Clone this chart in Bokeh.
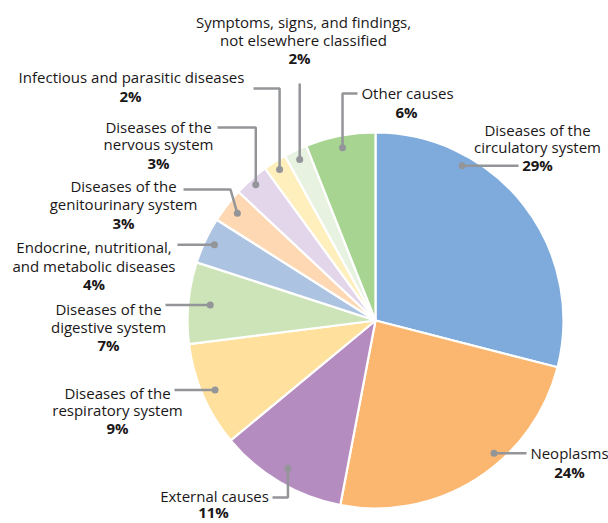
import math
from bokeh.plotting import figure
from bokeh.models import Range1d, ColumnDataSource
from bokeh.core.properties import value
from bokeh.embed import file_html
from bokeh.resources import INLINE

# ---------------- data ----------------
categories = [
    "Diseases of the circulatory system",
    "Neoplasms",
    "External causes",
    "Diseases of the respiratory system",
    "Diseases of the digestive system",
    "Endocrine, nutritional, and metabolic diseases",
    "Diseases of the genitourinary system",
    "Diseases of the nervous system",
    "Infectious and parasitic diseases",
    "Symptoms, signs, and findings, not elsewhere classified",
    "Other causes",
]
shares = [29, 24, 11, 9, 7, 4, 3, 3, 2, 2, 6]
label_lines = [
    ["Diseases of the", "circulatory system"],
    ["Neoplasms"],
    ["External causes"],
    ["Diseases of the", "respiratory system"],
    ["Diseases of the", "digestive system"],
    ["Endocrine, nutritional,", "and metabolic diseases"],
    ["Diseases of the", "genitourinary system"],
    ["Diseases of the", "nervous system"],
    ["Infectious and parasitic diseases"],
    ["Symptoms, signs, and findings,", "not elsewhere classified"],
    ["Other causes"],
]

# ---------------- styles / layout (image pixel space, y downwards) ----------------
colors = ["#7FABDC", "#FBB66F", "#B58CBF", "#FFE09C", "#CDE4B8", "#ADC3E2",
          "#FDD8B2", "#E3D6EB", "#FFEFBD", "#E7F2E1", "#A8D492"]
CX, CY, R = 375.0, 320.0, 188.0
# where the leader dot sits: fraction along slice angle, fraction of radius
dot_pos = [(0.28, 0.944), (0.392, 0.947), (0.5, 0.915), (0.5, 0.93), (0.5, 0.883),
           (0.5, 0.947), (0.5, 0.93), (0.5, 0.963), (0.5, 0.952), (0.5, 0.947), (0.5, 0.936)]
# label centre x, y of each line (name lines then percentage line)
label_x = [537, 569, 214, 117, 108, 93.5, 123, 158, 131, 303, 407]
label_ys = [
    [129, 146, 164],
    [452, 471],
    [495, 511],
    [392, 409, 427],
    [308, 326, 344],
    [246, 265, 283],
    [185, 203, 222],
    [126, 143, 162],
    [76, 95],
    [21, 39, 57],
    [92, 111],
]
pct_x = [537, 569, 213, 117, 108, 93.5, 123, 158, 130, 299, 406]
# leader waypoints (None -> dot coordinate), ending at the dot
leaders = [
    [(518, None)],
    [(526, None)],
    [(272, 497), (None, 497)],
    [(174, None)],
    [(165, None)],
    [(177, None)],
    [(183, 189), (230, 189)],
    [(217, 127), (None, 127)],
    [(253, 88), (None, 88)],
    [(None, 83)],
    [(357, 93), (None, 93)],
]

FONT = "Open Sans"
TXT = "#1A1718"
LEAD = "#939598"

# ---------------- figure ----------------
W, H = 608, 523
p = figure(width=W, height=H, output_backend="svg", toolbar_location=None,
           x_range=Range1d(0, W), y_range=Range1d(-H, 0),
           min_border=0, background_fill_color="white", border_fill_color="white")
p.axis.visible = False
p.grid.visible = False
p.outline_line_color = None

total = float(sum(shares))
starts, ends = [], []
acc = 0.0
for s in shares:
    starts.append(acc / total * 360.0)
    acc += s
    ends.append(acc / total * 360.0)

# wedges (clockwise from 12 o'clock)
src = ColumnDataSource(dict(
    start=[math.radians(90 - e) for e in ends],
    end=[math.radians(90 - s) for s in starts],
    color=colors,
))
p.wedge(x=CX, y=-CY, radius=R, start_angle="start", end_angle="end", direction="anticlock",
        fill_color="color", line_color="white", line_width=2.2, source=src)

# leader lines and dots
dots_x, dots_y = [], []
xs, ys = [], []
for i in range(len(shares)):
    fa, fr = dot_pos[i]
    ang = math.radians(starts[i] + fa * (ends[i] - starts[i]))
    dx = CX + fr * R * math.sin(ang)
    dy = CY - fr * R * math.cos(ang)
    dots_x.append(dx)
    dots_y.append(-dy)
    lx, ly = [], []
    for (wx, wy) in leaders[i]:
        lx.append(dx if wx is None else wx)
        ly.append(-(dy if wy is None else wy))
    lx.append(dx)
    ly.append(-dy)
    xs.append(lx)
    ys.append(ly)
p.multi_line(xs=xs, ys=ys, line_color=LEAD, line_width=2.5)
p.scatter(x=dots_x, y=dots_y, size=7, marker="circle", fill_color=LEAD, line_color=None)

# labels
tx, ty, tt = [], [], []
px_, py_, pt = [], [], []
for i in range(len(shares)):
    for j, line in enumerate(label_lines[i]):
        tx.append(label_x[i])
        ty.append(-label_ys[i][j])
        tt.append(line)
    px_.append(pct_x[i])
    py_.append(-label_ys[i][-1])
    pt.append(f"{shares[i]}%")

p.text(x=tx, y=ty, text=tt, text_align="center", text_baseline="middle",
       text_font=value(FONT), text_font_size="15px", text_color=TXT)
p.text(x=px_, y=py_, text=pt, text_align="center", text_baseline="middle",
       text_font=value(FONT), text_font_size="15px", text_font_style="bold", text_color=TXT)

open("out.html", "w").write(file_html(p, INLINE))
